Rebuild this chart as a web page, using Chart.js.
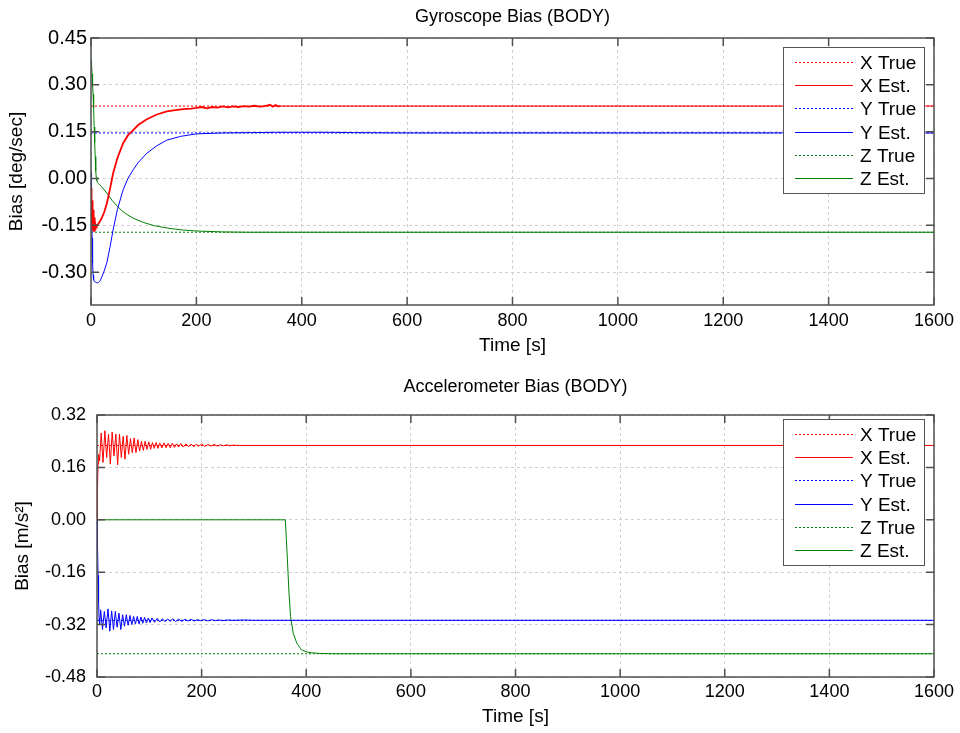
<!DOCTYPE html>
<html><head><meta charset="utf-8">
<script src="https://cdn.jsdelivr.net/npm/chart.js@4.4.1/dist/chart.umd.min.js"></script>
<style>
html,body{margin:0;padding:0;background:#fff;}
#wrap{position:relative;width:960px;height:733px;background:#fff;}
.box{position:absolute;left:0;width:960px;}
</style></head><body>
<div id="wrap">
<div class="box" style="top:0;height:366px"><canvas id="gyro"></canvas></div>
<div class="box" style="top:366px;height:367px"><canvas id="acc"></canvas></div>
</div>
<script>
// ---------- data ----------
const seriesNames = ['X True','X Est.','Y True','Y Est.','Z True','Z Est.'];
const xTickValues = [0,200,400,600,800,1000,1200,1400,1600];
const gyroTickValues = [-0.30,-0.15,0.00,0.15,0.30,0.45];
const accTickValues = [-0.48,-0.32,-0.16,0.00,0.16,0.32];
const gyroRange = [-0.405, 0.45];
const accRange = [-0.48, 0.32];
const trueSpan = [0, 1600];

// Gyroscope (deg/sec): true values X, Y, Z
const gyroTrue = [0.232, 0.146, -0.172];
const gyroXEstT = [0,0.5,1,1.5,2,2.5,3,3.5,4,4.5,5,5.5,6,6.5,7,7.5,8,9,10,11,12,14,17,20,25,30,36,42,50,61,70,80,90,106,125,144,160,175,190,200,210,220,230,240,250,260,270,280,290,300,310,320,330,340,345,350,355,360,1600];
const gyroXEstV = [-0.030,-0.110,-0.050,-0.140,-0.070,-0.155,-0.085,-0.165,-0.100,-0.170,-0.110,-0.168,-0.125,-0.170,-0.135,-0.165,-0.145,-0.155,-0.150,-0.152,-0.148,-0.145,-0.137,-0.128,-0.108,-0.080,-0.034,0.017,0.065,0.113,0.138,0.155,0.172,0.190,0.205,0.215,0.219,0.222,0.224,0.226,0.229,0.225,0.229,0.227,0.231,0.228,0.231,0.229,0.232,0.230,0.233,0.230,0.232,0.236,0.230,0.235,0.231,0.232,0.232];
const gyroYEstT = [0,1,2,3,4,5,6,8,10,12,14,16,18,20,25,30,36,42,50,61,70,80,90,106,125,144,170,200,250,300,350,400,450,500,600,1600];
const gyroYEstV = [0.020,-0.080,-0.190,-0.270,-0.310,-0.325,-0.329,-0.331,-0.333,-0.334,-0.333,-0.330,-0.325,-0.318,-0.296,-0.270,-0.220,-0.164,-0.100,-0.036,0.000,0.028,0.052,0.081,0.105,0.123,0.135,0.143,0.146,0.147,0.148,0.148,0.148,0.147,0.146,0.146];
const gyroZEstT = [0,1,2,3,4,5,6,7,8,9,10,11,12,14,17,20,25,30,40,50,60,70,80,100,120,150,175,200,250,300,400,1600];
const gyroZEstV = [0.380,0.365,0.335,0.300,0.270,0.225,0.165,0.115,0.070,0.025,0.003,-0.006,-0.012,-0.016,-0.021,-0.026,-0.036,-0.047,-0.070,-0.089,-0.105,-0.117,-0.127,-0.141,-0.151,-0.160,-0.165,-0.168,-0.171,-0.172,-0.172,-0.172];

// Accelerometer (m/s^2): true values X, Y, Z
const accTrue = [0.227, -0.307, -0.409];
const accXEstT = [0,1,2,3,5,8,11.5,15,18.5,22,25.5,29,32.5,36,39.5,43,46.5,50,53.5,57,60.5,64,67.5,71,74.5,78,81.5,85,88.5,92,95.5,99,102.5,106,109.5,113,116.5,120,124,128,132,136,140,144,148,152,156,160,165,170,175,180,185,190,195,200,206,212,218,224,230,236,242,248,254,260,270,1600];
const accXEstV = [0.000,0.100,0.170,0.200,0.180,0.265,0.175,0.272,0.190,0.262,0.170,0.268,0.195,0.262,0.168,0.262,0.190,0.255,0.185,0.258,0.200,0.248,0.205,0.250,0.205,0.245,0.210,0.240,0.212,0.240,0.215,0.238,0.215,0.236,0.218,0.236,0.218,0.234,0.219,0.235,0.220,0.233,0.220,0.234,0.221,0.232,0.222,0.233,0.222,0.232,0.223,0.231,0.223,0.231,0.224,0.232,0.224,0.230,0.225,0.230,0.225,0.229,0.226,0.229,0.226,0.228,0.227,0.227];
const accYEstT = [0,1,2,3,4,5,7,10.5,14,17.5,21,24.5,28,31.5,35,38.5,42,45.5,49,52.5,56,59.5,63,66.5,70,73.5,77,80.5,84,87.5,91,94.5,98,101.5,105,110,115,120,125,130,135,140,145,150,156,162,168,174,180,186,192,198,205,212,219,226,233,240,250,260,280,300,1600];
const accYEstV = [0.000,-0.080,-0.170,-0.250,-0.300,-0.320,-0.275,-0.335,-0.280,-0.330,-0.272,-0.340,-0.278,-0.335,-0.280,-0.328,-0.285,-0.335,-0.290,-0.325,-0.290,-0.322,-0.292,-0.320,-0.295,-0.318,-0.295,-0.318,-0.297,-0.316,-0.298,-0.315,-0.300,-0.314,-0.300,-0.313,-0.301,-0.312,-0.302,-0.311,-0.303,-0.310,-0.302,-0.311,-0.303,-0.310,-0.304,-0.309,-0.304,-0.309,-0.305,-0.308,-0.305,-0.309,-0.305,-0.308,-0.306,-0.308,-0.306,-0.307,-0.306,-0.307,-0.307];
const accZEstT = [0,360,362,364,367,370,375,382,391,400,410,425,450,1600];
const accZEstV = [0,0,-0.060,-0.122,-0.224,-0.295,-0.346,-0.377,-0.397,-0.403,-0.406,-0.408,-0.409,-0.409];

// ---------- helpers ----------
const FONT = "'Liberation Sans', Arial, Helvetica, sans-serif";
const COLORS = ['#ff0000','#0000ff','#008000'];
function pts(ts, vs){ const n=Math.min(ts.length,vs.length); const a=[]; for(let i=0;i<n;i++) a.push({x:ts[i],y:vs[i]}); return a; }
function buildDatasets(trueVals, est, noisyUntil){
  const ds=[];
  for(let k=0;k<3;k++){
    ds.push({label:seriesNames[2*k], data:pts(trueSpan,[trueVals[k],trueVals[k]]), borderColor:COLORS[k], borderWidth:1, borderDash:[2,2], pointRadius:0, fill:false, tension:0});
    const e={label:seriesNames[2*k+1], data:pts(est[k][0],est[k][1]), borderColor:COLORS[k], borderWidth:1, pointRadius:0, fill:false, tension:0};
    if(k===0 && noisyUntil){ e.segment={borderWidth:c=>(c.p1.parsed.x<=noisyUntil?1.8:1)}; }
    ds.push(e);
  }
  return ds;
}

const framePlugin = {
  id:'frameTicks',
  afterDatasetsDraw(chart){
    const {ctx, chartArea:a, scales:{x,y}} = chart;
    ctx.save();
    ctx.strokeStyle='#505050'; ctx.lineWidth=1.5; ctx.setLineDash([]);
    ctx.strokeRect(a.left, a.top, a.right-a.left, a.bottom-a.top);
    ctx.beginPath();
    x.ticks.forEach(t=>{const p=x.getPixelForValue(t.value); ctx.moveTo(p,a.bottom); ctx.lineTo(p,a.bottom-8); ctx.moveTo(p,a.top); ctx.lineTo(p,a.top+8);});
    y.ticks.forEach(t=>{const p=y.getPixelForValue(t.value); ctx.moveTo(a.left,p); ctx.lineTo(a.left+8,p); ctx.moveTo(a.right,p); ctx.lineTo(a.right-8,p);});
    ctx.stroke();
    ctx.restore();
  }
};
const legendPlugin = {
  id:'boxLegend',
  afterDraw(chart, args, opts){
    const {ctx, chartArea:a} = chart;
    const w=141, h=146;
    const x0=Math.round(a.right-opts.right-w), y0=Math.round(a.top+opts.top);
    ctx.save();
    ctx.fillStyle='#fff'; ctx.fillRect(x0,y0,w,h);
    ctx.strokeStyle='#555'; ctx.lineWidth=1; ctx.setLineDash([]);
    ctx.strokeRect(x0+0.5,y0+0.5,w,h);
    ctx.font='19px '+FONT; ctx.textBaseline='middle'; ctx.textAlign='left';
    chart.data.datasets.forEach((ds,i)=>{
      const yy=Math.round(y0+15+i*23.2)+0.5;
      ctx.strokeStyle=ds.borderColor; ctx.lineWidth=1; ctx.setLineDash(ds.borderDash||[]);
      ctx.beginPath(); ctx.moveTo(x0+12,yy); ctx.lineTo(x0+70,yy); ctx.stroke();
      ctx.setLineDash([]);
      ctx.fillStyle='#000'; ctx.fillText(ds.label,x0+77,yy+1);
    });
    ctx.restore();
  }
};

function makeChart(id, o){
  return new Chart(document.getElementById(id), {
    type:'line',
    data:{datasets:o.datasets},
    plugins:[framePlugin, legendPlugin],
    options:{
      responsive:true, maintainAspectRatio:false, animation:false, devicePixelRatio:1,
      layout:{padding:{left:0,right:26,top:0,bottom:0}},
      plugins:{
        legend:{display:false}, tooltip:{enabled:false},
        title:{display:true, fullSize:false, text:o.title, color:'#000', font:{family:FONT,size:18,weight:'normal'}, padding:o.titlePad},
        boxLegend:{right:10, top:o.legendTop}
      },
      scales:{
        x:{type:'linear', min:0, max:1600,
          afterBuildTicks:s=>{s.ticks=xTickValues.map(v=>({value:v}));},
          afterFit:s=>{s.height=o.xHeight; s.paddingLeft=0; s.paddingRight=0;},
          ticks:{color:'#000', font:{family:FONT,size:18}, padding:o.xTickPad, maxRotation:0, autoSkip:false, callback:v=>String(v)},
          grid:{color:'#d0d0d0', lineWidth:1, drawTicks:false},
          border:{display:false, dash:[3,3]},
          title:{display:true, text:'Time [s]', color:'#000', font:{family:FONT,size:19}, padding:{top:0,bottom:o.xTitlePad}}
        },
        y:{type:'linear', min:o.range[0], max:o.range[1],
          afterBuildTicks:s=>{s.ticks=o.yTicks.map(v=>({value:v}));},
          afterFit:s=>{s.width=o.yWidth; s.paddingTop=0; s.paddingBottom=0;},
          ticks:{color:'#000', font:{family:FONT,size:o.yTickSize}, padding:o.yTickPad, autoSkip:false, callback:v=>Number(v).toFixed(2)},
          grid:{color:'#d0d0d0', lineWidth:1, drawTicks:false},
          border:{display:false, dash:[3,3]},
          title:{display:true, text:o.yTitle, color:'#000', font:{family:FONT,size:19}, padding:{top:o.yTitlePad,bottom:0}}
        }
      }
    }
  });
}

makeChart('gyro', {
  title:'Gyroscope Bias (BODY)', titlePad:{top:6.2,bottom:10.2},
  datasets:buildDatasets(gyroTrue, [[gyroXEstT,gyroXEstV],[gyroYEstT,gyroYEstV],[gyroZEstT,gyroZEstV]], 360),
  range:gyroRange, yTicks:gyroTickValues, yTitle:'Bias [deg/sec]', yTickSize:20,
  xHeight:61, yWidth:91, xTickPad:5, yTickPad:4, xTitlePad:8.6, yTitlePad:5.6, legendTop:9
});
makeChart('acc', {
  title:'Accelerometer Bias (BODY)', titlePad:{top:10.2,bottom:17.2},
  datasets:buildDatasets(accTrue, [[accXEstT,accXEstV],[accYEstT,accYEstV],[accZEstT,accZEstV]], 0),
  range:accRange, yTicks:accTickValues, yTitle:'Bias [m/s²]', yTickSize:18,
  xHeight:56, yWidth:97, xTickPad:4, yTickPad:11, xTitlePad:4.6, yTitlePad:11.6, legendTop:4
});
</script>
</body></html>
